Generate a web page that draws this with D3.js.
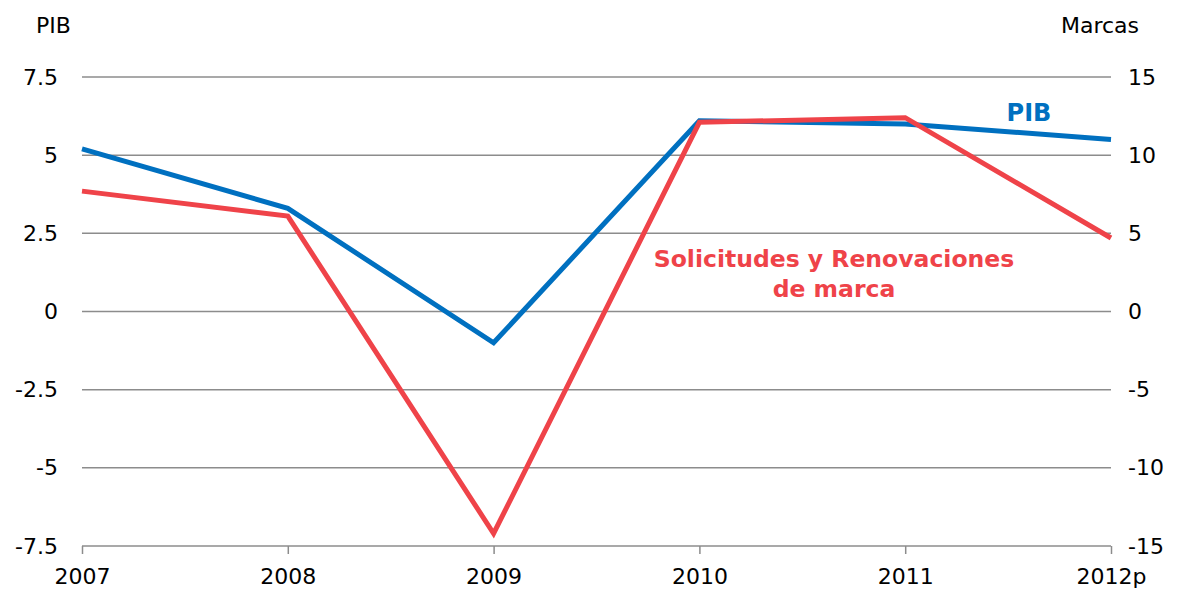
<!DOCTYPE html>
<html>
<head>
<meta charset="utf-8">
<script src="https://cdn.jsdelivr.net/npm/d3@7"></script>
<style>
    body { margin: 0; background: #fff; }
    svg text { font-family: "DejaVu Sans", Verdana, sans-serif; fill: #000; }
    .axis .domain { display: none; }
</style>
</head>
<body>
<div id="chart"></div>
<script>
// DATA
const years = ['2007', '2008', '2009', '2010', '2011', '2012p'];
const pib = [5.2, 3.3, -1.0, 6.1, 6.0, 5.5];
const marcas = [7.7, 6.1, -14.2, 12.1, 12.4, 4.7];
const leftTicks = [-7.5, -5, -2.5, 0, 2.5, 5, 7.5];
const rightTicks = [-15, -10, -5, 0, 5, 10, 15];

const width = 1183;
const height = 590;
const MARGIN = { top: 77, right: 72, bottom: 44, left: 82 };
const gWIDTH = width - MARGIN.left - MARGIN.right;
const gHEIGHT = height - MARGIN.top - MARGIN.bottom;
const FONT = '22px';

// plain hyphen for negatives, like the original
const fmt = d => String(d);

const svg = d3.select('#chart').append('svg')
    .attr('width', width)
    .attr('height', height);

const g = svg.append('g')
    .attr('transform', `translate(${MARGIN.left},${MARGIN.top})`);

// SCALES
const xScale = d3.scalePoint().domain(years).range([0, gWIDTH]);
const yLeft = d3.scaleLinear().domain([-7.5, 7.5]).range([gHEIGHT, 0]);
const yRight = d3.scaleLinear().domain([-15, 15]).range([gHEIGHT, 0]);

// GRID
g.append('g')
    .selectAll('line')
    .data(leftTicks.slice(1))
    .join('line')
    .attr('x1', 0)
    .attr('x2', gWIDTH)
    .attr('y1', d => yLeft(d))
    .attr('y2', d => yLeft(d))
    .attr('stroke', '#8c8c8c')
    .attr('stroke-width', 1.5);

// X AXIS
const xAxis = g.append('g')
    .attr('class', 'axis')
    .attr('transform', `translate(0,${gHEIGHT})`)
    .call(d3.axisBottom(xScale).tickSize(8).tickPadding(14));
xAxis.selectAll('line').attr('stroke', '#8c8c8c').attr('stroke-width', 1.5);
xAxis.selectAll('text').style('font-size', FONT);
g.append('line')
    .attr('x1', 0).attr('x2', gWIDTH)
    .attr('y1', gHEIGHT).attr('y2', gHEIGHT)
    .attr('stroke', '#8c8c8c').attr('stroke-width', 1.5);

// Y AXES
const leftAxis = g.append('g')
    .attr('class', 'axis')
    .call(d3.axisLeft(yLeft).tickValues(leftTicks).tickSize(0).tickPadding(24).tickFormat(fmt));
leftAxis.selectAll('text').style('font-size', FONT);

const rightAxis = g.append('g')
    .attr('class', 'axis')
    .attr('transform', `translate(${gWIDTH},0)`)
    .call(d3.axisRight(yRight).tickValues(rightTicks).tickSize(0).tickPadding(17).tickFormat(fmt));
rightAxis.selectAll('text').style('font-size', FONT);

// LINES
const line = y => d3.line()
    .x((d, i) => xScale(years[i]))
    .y(d => y(d));

g.append('path')
    .datum(pib)
    .attr('fill', 'none')
    .attr('stroke', '#0070c0')
    .attr('stroke-width', 5)
    .attr('d', line(yLeft));

g.append('path')
    .datum(marcas)
    .attr('fill', 'none')
    .attr('stroke', '#ef4349')
    .attr('stroke-width', 5)
    .attr('d', line(yRight));

// AXIS TITLES
svg.append('text')
    .attr('x', 36).attr('y', 33)
    .style('font-size', FONT)
    .text('PIB');
svg.append('text')
    .attr('x', 1139).attr('y', 33)
    .attr('text-anchor', 'end')
    .style('font-size', FONT)
    .text('Marcas');

// SERIES LABELS
svg.append('text')
    .attr('x', 1029).attr('y', 121)
    .attr('text-anchor', 'middle')
    .style('font-size', '24px')
    .style('font-weight', 'bold')
    .style('fill', '#0070c0')
    .text('PIB');

const lab = svg.append('text')
    .attr('text-anchor', 'middle')
    .style('font-size', '23.5px')
    .style('font-weight', 'bold')
    .style('fill', '#ef4349');
lab.append('tspan').attr('x', 834).attr('y', 267).text('Solicitudes y Renovaciones');
lab.append('tspan').attr('x', 834).attr('y', 297).text('de marca');
</script>
</body>
</html>
